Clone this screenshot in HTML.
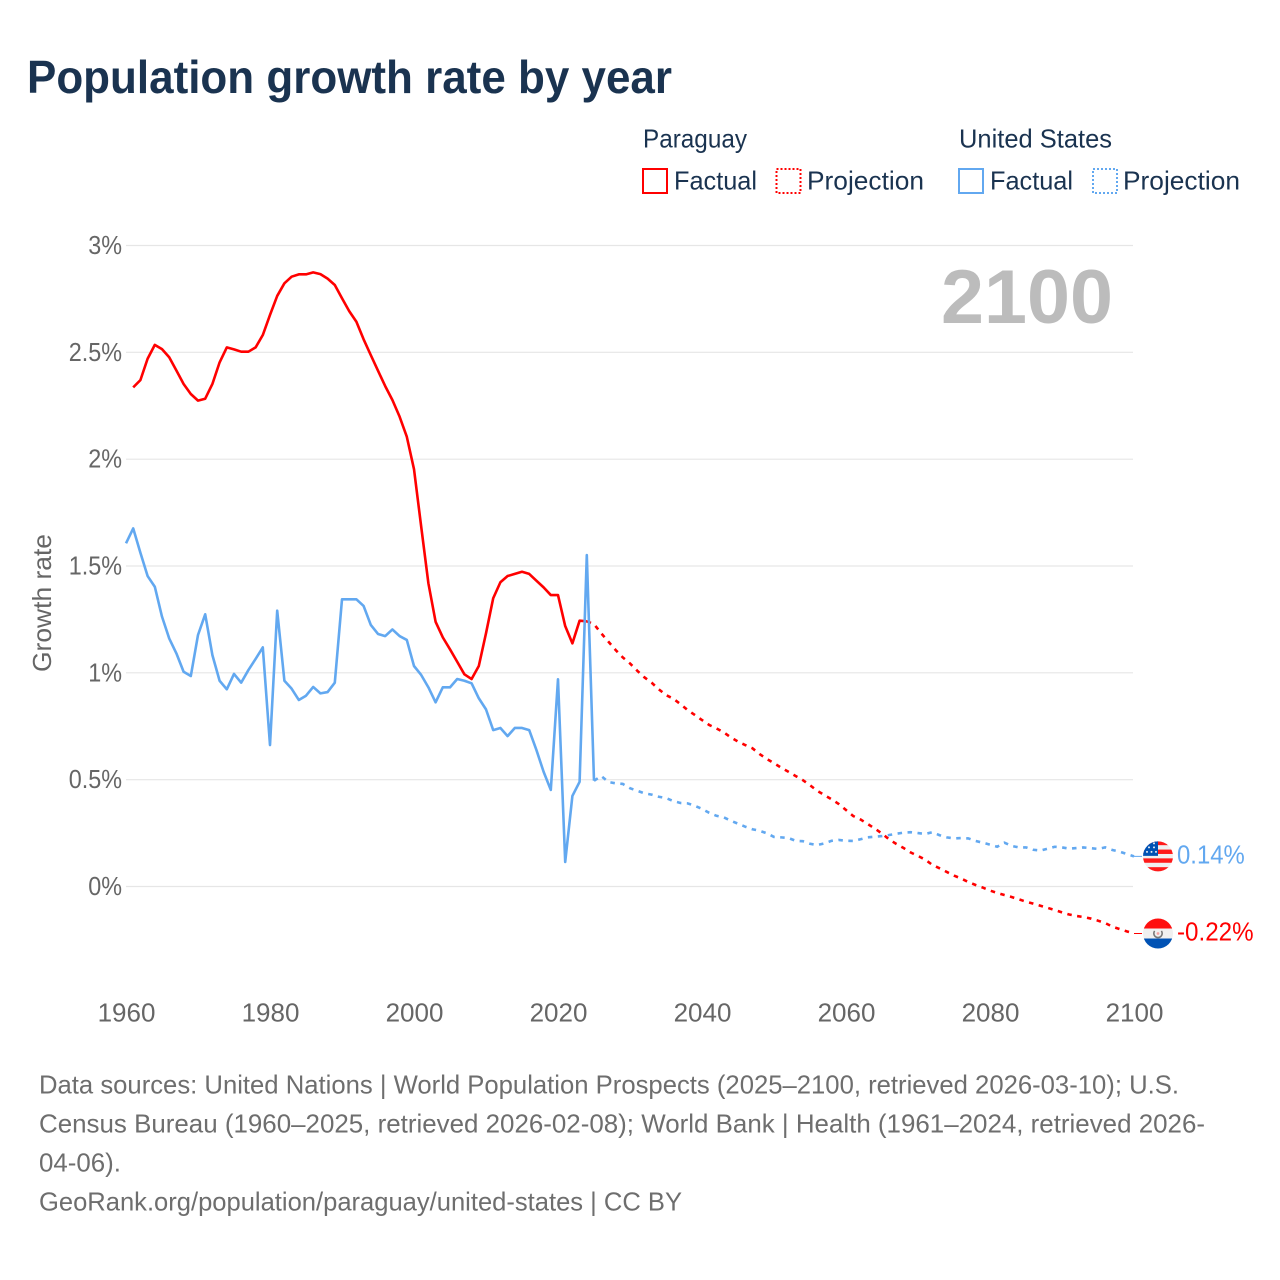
<!DOCTYPE html>
<html lang="en">
<head>
<meta charset="utf-8">
<title>Population growth rate by year</title>
<style>
  html, body { margin: 0; padding: 0; background: #ffffff; }
  svg { display: block; font-family: "Liberation Sans", sans-serif; }
  .legend-text { font-size: 26px; fill: #1a3350; }
  .footer-text { font-size: 26px; fill: #6e6e6e; }
  .tick-text { font-size: 26px; fill: #666666; }
</style>
</head>
<body>
<svg id="chart" xmlns="http://www.w3.org/2000/svg" width="1280" height="1280" viewBox="0 0 1280 1280">
  <defs>
    <clipPath id="flag-clip"><circle cx="0" cy="0" r="15"></circle></clipPath>
  </defs>
  <rect x="0" y="0" width="1280" height="1280" fill="#ffffff"></rect>
  <text x="27" y="93" font-size="46" font-weight="700" fill="#1a3350" textLength="645" lengthAdjust="spacingAndGlyphs">Population growth rate by year</text>

  <g>
    <text class="legend-text" x="643" y="147.5" textLength="104" lengthAdjust="spacingAndGlyphs">Paraguay</text>
    <rect x="643" y="169" width="24" height="24" fill="none" stroke="#ff0000" stroke-width="2"></rect>
    <text class="legend-text" x="674" y="189.5" textLength="83" lengthAdjust="spacingAndGlyphs">Factual</text>
    <rect x="776.5" y="169" width="24" height="24" fill="none" stroke="#ff0000" stroke-width="2" stroke-dasharray="2 2"></rect>
    <text class="legend-text" x="807" y="189.5" textLength="117" lengthAdjust="spacingAndGlyphs">Projection</text>

    <text class="legend-text" x="959" y="147.5" textLength="153" lengthAdjust="spacingAndGlyphs">United States</text>
    <rect x="959" y="169" width="24" height="24" fill="none" stroke="#62a8f0" stroke-width="2"></rect>
    <text class="legend-text" x="990" y="189.5" textLength="83" lengthAdjust="spacingAndGlyphs">Factual</text>
    <rect x="1093" y="169" width="24" height="24" fill="none" stroke="#62a8f0" stroke-width="2" stroke-dasharray="2 2"></rect>
    <text class="legend-text" x="1123" y="189.5" textLength="117" lengthAdjust="spacingAndGlyphs">Projection</text>
  </g>

  <text x="941" y="323" font-size="76" font-weight="700" fill="#bcbcbc" textLength="172" lengthAdjust="spacingAndGlyphs">2100</text>
  <text class="tick-text" transform="translate(51,672) rotate(-90)" x="0" y="0" textLength="138" lengthAdjust="spacingAndGlyphs">Growth rate</text>

  <g id="grid-layer"></g>
  <g id="tick-layer"></g>
  <g id="series-layer"></g>
  <g id="end-layer"></g>

  <g>
    <text class="footer-text" x="39" y="1093.5" textLength="1140" lengthAdjust="spacingAndGlyphs">Data sources: United Nations | World Population Prospects (2025–2100, retrieved 2026-03-10); U.S.</text>
    <text class="footer-text" x="39" y="1132.5" textLength="1166" lengthAdjust="spacingAndGlyphs">Census Bureau (1960–2025, retrieved 2026-02-08); World Bank | Health (1961–2024, retrieved 2026-</text>
    <text class="footer-text" x="39" y="1171.5" textLength="82" lengthAdjust="spacingAndGlyphs">04-06).</text>
    <text class="footer-text" x="39" y="1210.5" textLength="643" lengthAdjust="spacingAndGlyphs">GeoRank.org/population/paraguay/united-states | CC BY</text>
  </g>
</svg>
<script>
const xTickYears = [1960, 1980, 2000, 2020, 2040, 2060, 2080, 2100];
const yTickValues = [0, 0.5, 1, 1.5, 2, 2.5, 3];

const paraguayFactualStart = 1961;
const paraguayFactual = [
  2.336, 2.37, 2.47, 2.535, 2.515, 2.477, 2.415, 2.352, 2.305, 2.274,
  2.283, 2.352, 2.453, 2.523, 2.514, 2.503, 2.503, 2.523, 2.581, 2.675,
  2.764, 2.823, 2.854, 2.865, 2.865, 2.874, 2.866, 2.845, 2.815, 2.753,
  2.693, 2.643, 2.561, 2.487, 2.414, 2.342, 2.277, 2.199, 2.105, 1.953,
  1.684, 1.419, 1.239, 1.166, 1.11, 1.052, 0.993, 0.971, 1.032, 1.185,
  1.349, 1.424, 1.453, 1.463, 1.473, 1.463, 1.431, 1.4, 1.364, 1.364,
  1.219, 1.138, 1.244, 1.241
];

const paraguayProjectionStart = 2024;
const paraguayProjection = [
  1.241, 1.228, 1.185, 1.146, 1.107, 1.072, 1.044, 1.01, 0.979, 0.954,
  0.923, 0.896, 0.879, 0.854, 0.826, 0.803, 0.779, 0.756, 0.74, 0.722,
  0.698, 0.678, 0.662, 0.647, 0.62, 0.597, 0.577, 0.556, 0.537, 0.517,
  0.498, 0.474, 0.448, 0.428, 0.408, 0.386, 0.358, 0.33, 0.314, 0.293,
  0.271, 0.248, 0.22, 0.199, 0.18, 0.159, 0.143, 0.126, 0.101, 0.085,
  0.068, 0.051, 0.037, 0.021, 0.007, -0.005, -0.019, -0.03, -0.04, -0.049,
  -0.06, -0.071, -0.08, -0.09, -0.1, -0.11, -0.121, -0.131, -0.138, -0.143,
  -0.15, -0.16, -0.171, -0.188, -0.199, -0.21, -0.22
];

const unitedStatesFactualStart = 1960;
const unitedStatesFactual = [
  1.606, 1.676, 1.562, 1.453, 1.403, 1.263, 1.161, 1.091, 1.005, 0.985,
  1.177, 1.274, 1.083, 0.963, 0.923, 0.995, 0.954, 1.013, 1.065, 1.119,
  0.662, 1.291, 0.963, 0.926, 0.873, 0.893, 0.934, 0.904, 0.91, 0.954,
  1.344, 1.344, 1.344, 1.313, 1.224, 1.182, 1.172, 1.203, 1.172, 1.154,
  1.032, 0.99, 0.932, 0.862, 0.932, 0.932, 0.971, 0.963, 0.951, 0.881,
  0.829, 0.732, 0.742, 0.704, 0.742, 0.742, 0.732, 0.639, 0.537, 0.452,
  0.97, 0.115, 0.424, 0.49, 1.551, 0.495
];

const unitedStatesProjectionStart = 2025;
const unitedStatesProjection = [
  0.495, 0.517, 0.489, 0.483, 0.48, 0.46, 0.448, 0.436, 0.43, 0.42,
  0.414, 0.4, 0.391, 0.389, 0.378, 0.363, 0.345, 0.331, 0.324, 0.308,
  0.294, 0.28, 0.268, 0.261, 0.249, 0.232, 0.23, 0.227, 0.214, 0.212,
  0.2, 0.194, 0.202, 0.214, 0.218, 0.214, 0.213, 0.221, 0.23, 0.233,
  0.236, 0.241, 0.247, 0.252, 0.254, 0.25, 0.246, 0.254, 0.24, 0.23,
  0.225, 0.227, 0.225, 0.213, 0.205, 0.196, 0.186, 0.205, 0.19, 0.183,
  0.183, 0.172, 0.168, 0.177, 0.186, 0.183, 0.177, 0.18, 0.183, 0.179,
  0.176, 0.183, 0.171, 0.163, 0.152, 0.141
];

const SVG_NS = 'http://www.w3.org/2000/svg';
const RED = '#ff0000';
const BLUE = '#62a8f0';

function xScale(year) { return 126 + (year - 1960) * (1134 - 126) / 140; }
function yScale(value) { return 886.5 - value * (886.5 - 245.5) / 3; }

function make(tag, parent, attrs) {
  const el = document.createElementNS(SVG_NS, tag);
  Object.keys(attrs).forEach(function (k) { el.setAttribute(k, attrs[k]); });
  parent.appendChild(el);
  return el;
}

function seriesPoints(start, values) {
  return values.map(function (v, i) {
    return xScale(start + i).toFixed(2) + ',' + yScale(v).toFixed(2);
  }).join(' ');
}

const gridLayer = document.getElementById('grid-layer');
const tickLayer = document.getElementById('tick-layer');
const seriesLayer = document.getElementById('series-layer');
const endLayer = document.getElementById('end-layer');

yTickValues.forEach(function (v) {
  const line = make('line', gridLayer, { x1: 126, x2: 1133, y1: yScale(v), y2: yScale(v), stroke: '#e6e6e6', 'stroke-width': 1.2 });
  
  

  const label = make('text', tickLayer, { x: 122, y: yScale(v) + 8.5, 'text-anchor': 'end', class: 'tick-text' });
  
  
  label.textContent = v + '%';
  label.setAttribute('textLength', (label.getComputedTextLength() * 0.9).toFixed(1));
  label.setAttribute('lengthAdjust', 'spacingAndGlyphs');
});

xTickYears.forEach(function (year) {
  const label = make('text', tickLayer, { x: xScale(year) + 0.5, y: 1021.5, 'text-anchor': 'middle', class: 'tick-text' });
  
  
  label.textContent = year;
});

const paraguayFactualLine = make('polyline', seriesLayer, { points: seriesPoints(paraguayFactualStart, paraguayFactual), fill: 'none', stroke: RED, 'stroke-width': 2.6, 'stroke-linejoin': 'round' });



const paraguayProjectionLine = make('polyline', seriesLayer, { points: seriesPoints(paraguayProjectionStart, paraguayProjection), fill: 'none', stroke: RED, 'stroke-width': 2.6, 'stroke-dasharray': '4.5 5.5' });



const unitedStatesFactualLine = make('polyline', seriesLayer, { points: seriesPoints(unitedStatesFactualStart, unitedStatesFactual), fill: 'none', stroke: BLUE, 'stroke-width': 2.6, 'stroke-linejoin': 'round' });



const unitedStatesProjectionLine = make('polyline', seriesLayer, { points: seriesPoints(unitedStatesProjectionStart, unitedStatesProjection), fill: 'none', stroke: BLUE, 'stroke-width': 2.6, 'stroke-dasharray': '4.5 5.5' });



const usLast = unitedStatesProjection[unitedStatesProjection.length - 1];
const pyLast = paraguayProjection[paraguayProjection.length - 1];

const usConnector = make('line', endLayer, { x1: xScale(2100), x2: 1142, y1: yScale(usLast), y2: yScale(usLast), stroke: BLUE, 'stroke-width': 1 });



const pyConnector = make('line', endLayer, { x1: xScale(2100), x2: 1142, y1: yScale(pyLast), y2: yScale(pyLast), stroke: RED, 'stroke-width': 1 });



/* United States flag */
const usFlag = make('g', endLayer, { transform: 'translate(1158,' + yScale(usLast).toFixed(2) + ')' });


const usBody = make('g', usFlag, { 'clip-path': 'url(#flag-clip)' });
make('rect', usBody, { x: -16, y: -16, width: 32, height: 32, fill: '#f0f0f0' });
[-15.6, -6.8, 2, 10.8].forEach(function (top) {
  make('rect', usBody, { x: -16, y: top, width: 32, height: 4.4, fill: '#ff1a1a' });
});
make('rect', usBody, { x: -16, y: -16, width: 16, height: 15.5, fill: '#0052b4' });
[[-9, -9], [-4, -9], [-11, -4.5], [-6.5, -4.5], [-2, -4.5], [-4, -13]].forEach(function (p) {
  make('circle', usBody, { cx: p[0], cy: p[1], r: 1, fill: '#e8edf5' });
});

/* Paraguay flag */
const pyFlag = make('g', endLayer, { transform: 'translate(1158,' + yScale(pyLast).toFixed(2) + ')' });


const pyBody = make('g', pyFlag, { 'clip-path': 'url(#flag-clip)' });
make('rect', pyBody, { x: -16, y: -16, width: 32, height: 32, fill: '#f0f0f0' });
make('rect', pyBody, { x: -16, y: -16, width: 32, height: 11, fill: '#ff0f0f' });
make('rect', pyBody, { x: -16, y: 5, width: 32, height: 11, fill: '#0052b4' });
make('path', pyBody, { d: 'M-3.4,-2.6 A4.2,4.2 0 1 0 3.4,-2.6', fill: 'none', stroke: '#777777', 'stroke-width': 1.6 });
make('circle', pyBody, { cx: 0, cy: 0, r: 1.4, fill: '#f4a0a0' });

const usLabel = make('text', endLayer, { x: 1177, y: yScale(usLast) + 7, 'font-size': 26, fill: BLUE });


usLabel.textContent = usLast.toFixed(2) + '%';
usLabel.setAttribute('textLength', (usLabel.getComputedTextLength() * 0.92).toFixed(1));
usLabel.setAttribute('lengthAdjust', 'spacingAndGlyphs');

const pyLabel = make('text', endLayer, { x: 1177, y: yScale(pyLast) + 7, 'font-size': 26, fill: RED });


pyLabel.textContent = pyLast.toFixed(2) + '%';
pyLabel.setAttribute('textLength', (pyLabel.getComputedTextLength() * 0.93).toFixed(1));
pyLabel.setAttribute('lengthAdjust', 'spacingAndGlyphs');
</script>
</body>
</html>
